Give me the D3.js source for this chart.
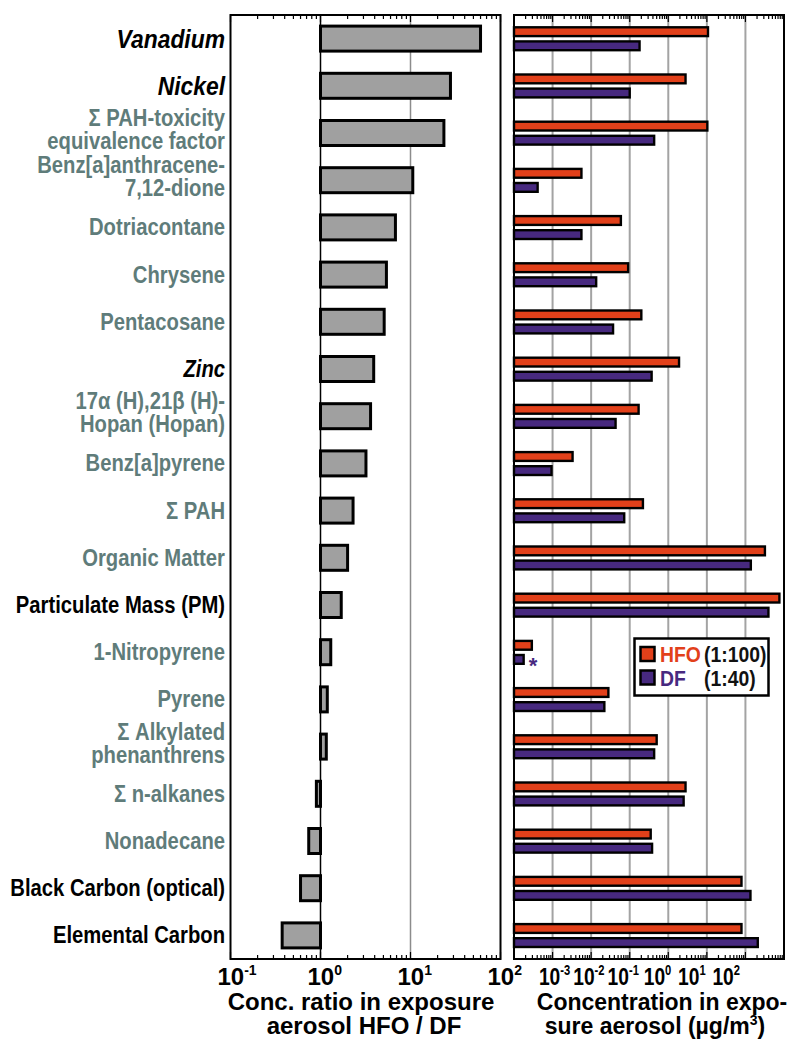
<!DOCTYPE html>
<html>
<head>
<meta charset="utf-8">
<script src="https://cdn.jsdelivr.net/npm/d3@7"></script>
<style>
    body { margin: 0; background: #fff; }
    text { font-family: "Liberation Sans", Arial, sans-serif; font-weight: bold; }
</style>
</head>
<body>
<div id="chart"></div>
<script>
// Data

const compounds = [
    "Vanadium", "Nickel", "Σ PAH-toxicity\nequivalence factor", "Benz[a]anthracene-\n7,12-dione",
    "Dotriacontane", "Chrysene", "Pentacosane", "Zinc", "17α (H),21β (H)-\nHopan (Hopan)",
    "Benz[a]pyrene", "Σ PAH", "Organic Matter", "Particulate Mass (PM)", "1-Nitropyrene",
    "Pyrene", "Σ Alkylated\nphenanthrens", "Σ n-alkanes", "Nonadecane",
    "Black Carbon (optical)", "Elemental Carbon"
];

// metal / bulk / organic
const compoundGroup = [
    "metal", "metal", "organic", "organic", "organic", "organic", "organic", "metal", "organic",
    "organic", "organic", "organic", "bulk", "organic", "organic", "organic", "organic", "organic",
    "bulk", "bulk"
];

// HFO tracers, written bigger
const tracers = ["Vanadium", "Nickel"];

const ratioHFOtoDF = [
    60, 27.8, 23.5, 10.6, 6.8, 5.4, 5.1, 3.9, 3.6, 3.2,
    2.3, 2.0, 1.7, 1.3, 1.19, 1.16, 0.9, 0.74, 0.6, 0.375
];

// µg/m3
const concHFO = [
    10.7, 2.8, 10.3, 0.0056, 0.059, 0.091, 0.2, 1.9, 0.17, 0.0033,
    0.22, 320, 760, 0.00029, 0.028, 0.5, 2.8, 0.35, 79, 79
];
const concDF = [
    0.18, 0.1, 0.43, 0.00041, 0.0056, 0.0135, 0.037, 0.37, 0.043, 0.00094,
    0.072, 138, 395, 0.000178, 0.022, 0.43, 2.5, 0.38, 135, 209
];

const flaggedDF = ["1-Nitropyrene"];

const ratioTicks = [0.1, 1, 10, 100];
const concTicks = [1e-3, 1e-2, 1e-1, 1, 10, 100];

const fuels = ["HFO", "DF"];
const dilutions = ["(1:100)", "(1:40)"];

// ---------------------------------------------------------------

const width = 790;
const height = 1041;
const yTop = 15, yBottom = 959;

const colors = { HFO: "#e2401a", DF: "#47297f" };
const groupColor = { metal: "#000", bulk: "#000", organic: "#5f7c7a" };

const svg = d3.select("#chart")
    .append("svg")
    .attr("width", width)
    .attr("height", height);

const yScale = d3.scaleBand()
    .domain(compounds)
    .range([yTop, yBottom]);

const xL = d3.scaleLog()
    .domain([0.1, 100])
    .range([230.5, 500.5]);

const xR = d3.scaleLog()
    .domain([1e-4, 1e3])
    .range([514, 784]);

const isDecade = v => Math.abs(Math.log10(v) - Math.round(Math.log10(v))) < 1e-9;
const mid = d => yScale(d) + yScale.bandwidth() / 2;

// grid lines
svg.append("line")
    .attr("x1", xL(10)).attr("x2", xL(10))
    .attr("y1", yTop).attr("y2", yBottom)
    .attr("stroke", "#8c8c8c").attr("stroke-width", 1.5);

svg.append("line")
    .attr("x1", xL(1)).attr("x2", xL(1))
    .attr("y1", yTop).attr("y2", yBottom)
    .attr("stroke", "#000").attr("stroke-width", 1.5);

svg.append("g")
    .selectAll("line")
    .data(concTicks)
    .join("line")
    .attr("x1", d => xR(d)).attr("x2", d => xR(d))
    .attr("y1", yTop).attr("y2", yBottom)
    .attr("stroke", "#a3a3a3").attr("stroke-width", 2);

// left panel bars
const leftBarH = 25;
svg.append("g")
    .selectAll("rect")
    .data(compounds)
    .join("rect")
    .attr("x", (d, i) => xL(Math.min(ratioHFOtoDF[i], 1)))
    .attr("width", (d, i) => Math.abs(xL(ratioHFOtoDF[i]) - xL(1)))
    .attr("y", d => yScale(d) + (yScale.bandwidth() - leftBarH) / 2)
    .attr("height", leftBarH)
    .attr("fill", "#a0a0a0")
    .attr("stroke", "#000")
    .attr("stroke-width", 3);

// right panel bars
const barH = 8.8;
const offsets = { HFO: -11.3, DF: 2.8 };
const concs = { HFO: concHFO, DF: concDF };

fuels.forEach(f => {
    svg.append("g")
        .selectAll("rect")
        .data(compounds)
        .join("rect")
        .attr("x", xR(1e-4))
        .attr("width", (d, i) => xR(concs[f][i]) - xR(1e-4))
        .attr("y", d => mid(d) + offsets[f])
        .attr("height", barH)
        .attr("fill", colors[f])
        .attr("stroke", "#000")
        .attr("stroke-width", 2.4);
});

// asterisk
svg.append("g")
    .selectAll("text")
    .data(flaggedDF)
    .join("text")
    .attr("x", d => xR(concDF[compounds.indexOf(d)]) + 5)
    .attr("y", d => mid(d) + 21)
    .attr("fill", colors.DF)
    .attr("font-size", 22)
    .text("*");

// frames
[xL, xR].forEach(sc => {
    const [a, b] = sc.range();
    svg.append("rect")
        .attr("x", a).attr("y", yTop)
        .attr("width", b - a).attr("height", yBottom - yTop)
        .attr("fill", "none")
        .attr("stroke", "#000")
        .attr("stroke-width", 2);
});

// minor / major ticks on top and bottom, pointing inward
[xL, xR].forEach(sc => {
    const ticks = sc.ticks();
    const g = svg.append("g").attr("stroke", "#000").attr("stroke-width", 1.2);
    g.selectAll("line.t")
        .data(ticks)
        .join("line")
        .attr("class", "t")
        .attr("x1", d => sc(d)).attr("x2", d => sc(d))
        .attr("y1", yTop).attr("y2", d => yTop + (isDecade(d) ? 7 : 4));
    g.selectAll("line.b")
        .data(ticks)
        .join("line")
        .attr("class", "b")
        .attr("x1", d => sc(d)).attr("x2", d => sc(d))
        .attr("y1", yBottom).attr("y2", d => yBottom - (isDecade(d) ? 7 : 4));
});

// category labels (condensed bold face)
const labels = svg.append("g")
    .selectAll("text")
    .data(compounds)
    .join("text")
    .attr("text-anchor", "end")
    .attr("transform", "translate(225, 0) scale(0.88, 1)")
    .attr("font-size", d => tracers.includes(d) ? 26 : 23)
    .attr("font-style", (d, i) => compoundGroup[i] === "metal" ? "italic" : "normal")
    .attr("fill", (d, i) => groupColor[compoundGroup[i]]);

labels.each(function (d) {
    const lines = d.split("\n");
    const c = mid(d);
    const start = lines.length === 1 ? c + (tracers.includes(d) ? 9 : 8) : c - 7;
    lines.forEach((ln, j) => {
        d3.select(this).append("tspan")
            .attr("x", 0)
            .attr("y", start + j * 23)
            .text(ln);
    });
});

// x tick labels
const expLabel = (g, v) => {
    g.append("tspan").text("10");
    g.append("tspan")
        .attr("font-size", 14)
        .attr("dy", -10)
        .text(Math.round(Math.log10(v)));
};

svg.append("g")
    .selectAll("text")
    .data(ratioTicks)
    .join("text")
    .attr("x", d => xL(d) - 13)
    .attr("y", 985)
    .attr("font-size", 24)
    .each(function (d) { expLabel(d3.select(this), d); });

// right labels are squeezed together in the original
const x0 = xR(concTicks[0]);
svg.append("g")
    .selectAll("text")
    .data(concTicks)
    .join("text")
    .attr("text-anchor", "middle")
    .attr("transform", d => `translate(${x0 + 2 + 0.89 * (xR(d) - x0)}, 985) scale(0.8, 1)`)
    .attr("font-size", 24)
    .each(function (d) { expLabel(d3.select(this), d); });

// axis titles
const leftTitle = svg.append("text")
    .attr("text-anchor", "middle")
    .attr("font-size", 24);
leftTitle.append("tspan").attr("x", 361).attr("y", 1010).text("Conc. ratio in exposure");
leftTitle.append("tspan").attr("x", 364).attr("y", 1034).text("aerosol HFO / DF");

const rightTitle = svg.append("text")
    .attr("text-anchor", "middle")
    .attr("font-size", 23);
rightTitle.append("tspan").attr("x", 662).attr("y", 1010).text("Concentration in expo-");
rightTitle.append("tspan").attr("x", 655).attr("y", 1034).text("sure aerosol (µg/m");
rightTitle.append("tspan").attr("font-size", 14).attr("dy", -9).text("3");
rightTitle.append("tspan").attr("dy", 9).text(")");

// legend
const legend = svg.append("g").attr("transform", "translate(634.5, 638.5)");
legend.append("rect")
    .attr("width", 134).attr("height", 57)
    .attr("fill", "#fff")
    .attr("stroke", "#000").attr("stroke-width", 2.5);

const items = legend.selectAll("g.item")
    .data(fuels)
    .join("g")
    .attr("transform", (d, i) => `translate(0, ${i * 23.5})`);

items.append("rect")
    .attr("x", 6).attr("y", 8.5)
    .attr("width", 14).attr("height", 14)
    .attr("fill", d => colors[d])
    .attr("stroke", "#000").attr("stroke-width", 2.5);

items.append("text")
    .attr("transform", "translate(25.5, 23.5) scale(0.88, 1)")
    .attr("font-size", 22)
    .attr("fill", d => colors[d])
    .text(d => d);

items.append("text")
    .attr("transform", "translate(69.5, 23.5) scale(0.88, 1)")
    .attr("font-size", 22)
    .attr("fill", "#111")
    .text((d, i) => dilutions[i]);
</script>
</body>
</html>
